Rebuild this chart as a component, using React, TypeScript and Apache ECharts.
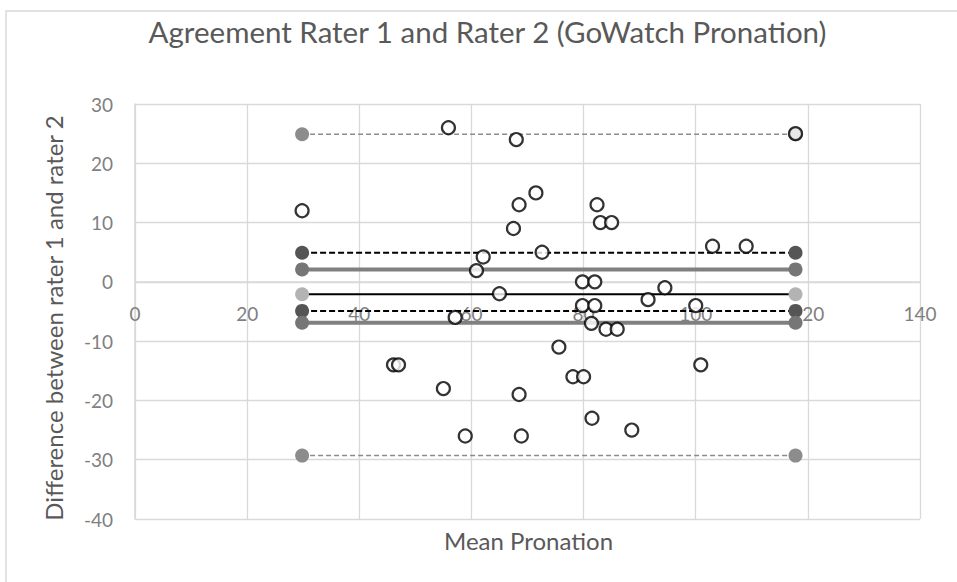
import React, { useEffect, useRef } from "react";
import * as echarts from "echarts";

const titleText = "Agreement Rater 1 and Rater 2 (GoWatch Pronation)";
const xName = "Mean Pronation";
const yName = "Difference between rater 1 and rater 2";

const meanValues = [
  29.8, 55.9, 68.0, 71.5, 68.5, 67.5, 72.6, 62.1, 60.9, 65.0,
  82.4, 83.0, 85.0, 79.8, 82.0, 91.5, 94.5, 79.8, 82.0, 57.1,
  81.4, 84.0, 86.0, 75.6, 46.1, 47.0, 78.1, 80.0, 55.0, 68.5,
  81.5, 58.9, 68.9, 88.6, 117.8, 103.0, 109.0, 100.0, 100.9,
];
const diffValues = [
  12, 26, 24, 15, 13, 9, 5, 4.2, 1.9, -2,
  13, 10, 10, 0, 0, -3, -1, -4, -4, -6,
  -7, -8, -8, -11, -14, -14, -16, -16, -18, -19,
  -23, -26, -26, -25, 25, 6, 6, -4, -14,
];

const lineStartX = 29.8;
const lineEndX = 117.8;
const upperLoA = 24.9;
const lowerLoA = -29.3;
const bias = -2.1;
const biasCIUpper = 2.1;
const biasCILower = -6.9;
const thresholdUpper = 4.9;
const thresholdLower = -4.9;

const yMin = -40;
const yMax = 30;

const hLine = (name: string, v: number, lineColor: string, width: number, type: any, markerColor: string) => ({
  name,
  type: "line",
  data: [[lineStartX, v], [lineEndX, v]],
  symbol: "circle",
  symbolSize: 14,
  showSymbol: true,
  itemStyle: { color: markerColor },
  lineStyle: { color: lineColor, width, type },
  z: 2,
  silent: true,
});

export default function App() {
  const ref = useRef<HTMLDivElement>(null);
  useEffect(() => {
    if (!ref.current) return;
    const chart = echarts.init(ref.current, undefined, { renderer: "svg" });
    const font = "Lato, 'Open Sans', sans-serif";
    const points = meanValues.map((x, i) => [x, diffValues[i]]);
    const gridTop = 104;
    const gridBottom = 63;
    const plotH = 582 - gridTop - gridBottom;
    // move the x axis up so that it crosses the y axis at zero
    const zeroOffset = (plotH * (0 - yMin)) / (yMax - yMin);
    chart.setOption({
      animation: false,
      backgroundColor: "#ffffff",
      textStyle: { fontFamily: font },
      grid: { left: 135, right: 37, top: gridTop, bottom: gridBottom },
      graphic: [
        {
          type: "rect",
          shape: { x: 6, y: 11, width: 1000, height: 1000 },
          style: { fill: "none", stroke: "#d9d9d9", lineWidth: 1.5 },
          silent: true,
          z: -1,
        },
        {
          type: "text",
          x: 487.5,
          y: 31,
          style: {
            text: titleText,
            fill: "#595959",
            font: `29.5px ${font}`,
            textAlign: "center",
            textVerticalAlign: "middle",
          },
        },
        {
          type: "text",
          x: 528.5,
          y: 540,
          style: {
            text: xName,
            fill: "#595959",
            font: `24px ${font}`,
            textAlign: "center",
            textVerticalAlign: "middle",
          },
        },
        {
          type: "text",
          x: 53,
          y: 318,
          rotation: Math.PI / 2,
          style: {
            text: yName,
            fill: "#595959",
            font: `24px ${font}`,
            textAlign: "center",
            textVerticalAlign: "middle",
          },
        },
      ],
      xAxis: {
        type: "value",
        min: 0,
        max: 140,
        interval: 20,
        offset: -zeroOffset,
        axisLine: { onZero: false, lineStyle: { color: "#d9d9d9", width: 1.5 } },
        axisTick: { show: false },
        axisLabel: { color: "#7f7f7f", fontSize: 19, margin: 22, fontFamily: font },
        splitLine: { show: true, lineStyle: { color: "#d9d9d9", width: 1.3 } },
      },
      yAxis: {
        type: "value",
        min: yMin,
        max: yMax,
        interval: 10,
        axisLine: { show: true, onZero: false, lineStyle: { color: "#d9d9d9", width: 1.5 } },
        axisTick: { show: false },
        axisLabel: { color: "#7f7f7f", fontSize: 19, margin: 22, fontFamily: font },
        splitLine: { show: true, lineStyle: { color: "#d9d9d9", width: 1.3 } },
      },
      series: [
        hLine("Upper LoA", upperLoA, "#8c8c8c", 1.5, [5, 3], "#8c8c8c"),
        hLine("Lower LoA", lowerLoA, "#8c8c8c", 1.5, [5, 3], "#8c8c8c"),
        hLine("Threshold upper", thresholdUpper, "#000000", 2, [6, 3], "#555555"),
        hLine("Threshold lower", thresholdLower, "#000000", 2, [6, 3], "#555555"),
        hLine("Bias CI upper", biasCIUpper, "#808080", 4, "solid", "#767676"),
        hLine("Bias CI lower", biasCILower, "#808080", 4, "solid", "#767676"),
        hLine("Bias", bias, "#000000", 2, "solid", "#b3b3b3"),
        {
          name: "Differences",
          type: "scatter",
          data: points,
          symbol: "circle",
          symbolSize: 13,
          itemStyle: { color: "#ffffff", borderColor: "#000000", borderWidth: 2.2 },
          z: 5,
        },
      ],
    });
    return () => chart.dispose();
  }, []);
  return (
    <div
      ref={ref}
      style={{ position: "fixed", left: 0, top: 0, width: 957, height: 582 }}
    />
  );
}
